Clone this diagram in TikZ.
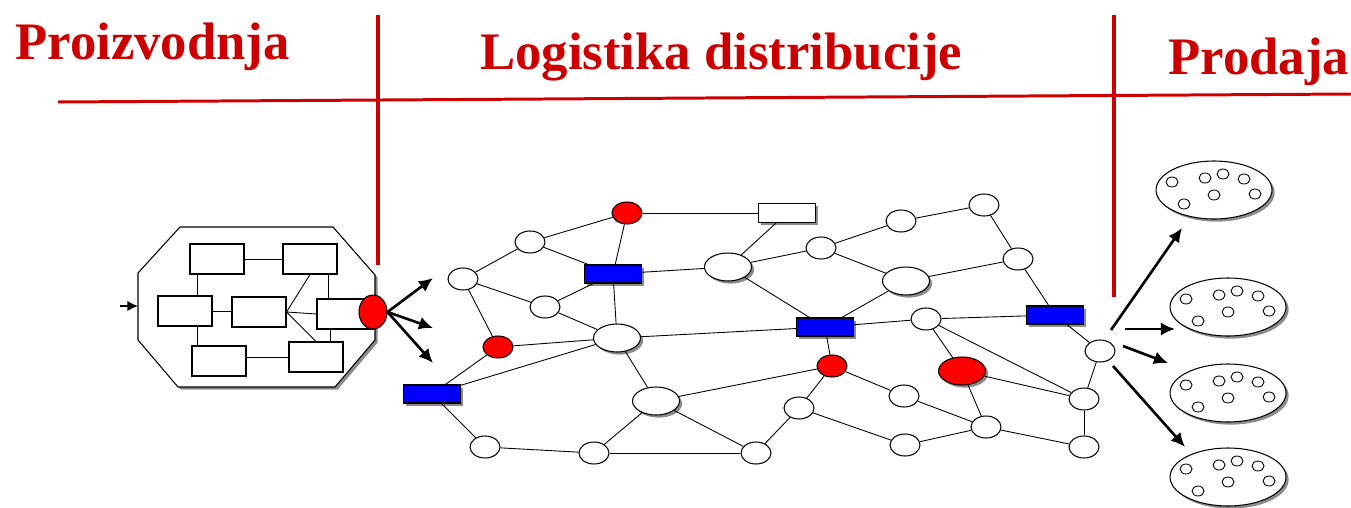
\documentclass[tikz,border=0pt]{standalone}
\usepackage{fontspec}
\setmainfont{Liberation Serif}
\usetikzlibrary{shapes.geometric, shadows, arrows.meta}
\definecolor{zonered}{RGB}{204,0,0}

\begin{document}
\begin{tikzpicture}[
x=0.02cm, y=-0.02cm,
header/.style={anchor=base west, text=zonered, inner sep=0, font=\bfseries\fontsize{30}{36}\selectfont},
zone/.style={draw=zonered, line width=2.8pt},
shade/.style={drop shadow={shadow xshift=1.5pt, shadow yshift=-1.5pt, fill=black, opacity=0.45}},
hub/.style={ellipse, draw, fill=white, line width=0.6pt, inner sep=0, minimum width=0.6cm, minimum height=0.44cm},
hub-big/.style={hub, shade, minimum width=0.94cm, minimum height=0.56cm},
hub-red/.style={hub, fill=red},
depot/.style={rectangle, draw, fill=blue, line width=0.6pt, inner sep=0, shade, minimum width=1.14cm, minimum height=0.36cm},
unit/.style={rectangle, draw, fill=white, line width=0.6pt, inner sep=0, minimum width=1.08cm, minimum height=0.6cm},
shop/.style={ellipse, draw, fill=white, line width=0.6pt, inner sep=0, shade, minimum width=2.32cm, minimum height=1.16cm},
client/.style={ellipse, draw, fill=white, line width=0.5pt, inner sep=0, minimum width=0.24cm, minimum height=0.2cm},
link/.style={line width=0.5pt},
flow/.style={line width=1.5pt, -{Latex[length=8pt, width=7.5pt]}}
]
\useasboundingbox (0,0) rectangle (1351,507);

% zones
\node[header] (make) at (15,59) {Proizvodnja};
\node[header] (logistics) at (480,69) {Logistika distribucije};
\node[header] (sale) at (1168,74) {Prodaja};
\draw[zone, line width=1.7pt] (58,102) -- (1351,94);
\draw[zone] (378,15) -- (378,265);
\draw[zone] (1114,15) -- (1114,297);

% plant
\draw[fill=white, line width=0.6pt, shade] (180,227) -- (333,227) -- (375,275) -- (375,340)
  -- (335,387) -- (178,387) -- (138,340) -- (138,273) -- cycle;
\node[unit] (u1) at (217,259) {};
\node[unit] (u2) at (310,259) {};
\node[unit] (u3) at (185,311) {};
\node[unit] (u4) at (259,312) {};
\node[unit, minimum width=1.12cm] (u5) at (345,314) {};
\node[unit] (u6) at (219,361) {};
\node[unit] (u7) at (316,357) {};
\draw[link] (u1) -- (u2);
\draw[link] (u3.east) -- (u3.east -| u4.west);
\draw[link] (u7.west -| u6.east) -- (u7.west);
\draw[link] ([xshift=-0.3cm]u3.north east) -- ([xshift=-0.3cm]u3.north east |- u1.south);
\draw[link] ([xshift=0.12cm]u6.north west) -- ([xshift=0.12cm]u6.north west |- u3.south);
\draw[link] ([xshift=-0.18cm]u2.south east) -- ([xshift=-0.18cm]u2.south east |- u5.north);
\draw[link] ([xshift=-0.3cm]u5.south) -- ([xshift=-0.3cm]u5.south |- u7.north);
\draw[link] (u4.east) -- (u2.south);
\draw[link] (u4.east) -- (u5.west);
\draw[link] (u4.east) -- (u7.north);
\node[hub-red, minimum width=0.56cm, minimum height=0.68cm] (port) at (373,312) {};

\coordinate (feed) at (120,306);
\coordinate (plant-in) at (138,306);
\draw[line width=1.5pt, -{Latex[length=6pt, width=6pt]}] (feed) -- (plant-in);
\draw[flow] (port.east) -- ([shift={(60,-34)}]port.center);
\draw[flow] (port.east) -- ([shift={(60,16)}]port.center);
\draw[flow] (port.east) -- ([shift={(60,51)}]port.center);

% distribution network
\node[hub] (a) at (530,242) {};
\node[hub-red] (b) at (627,213) {};
\node[hub] (c) at (463,279) {};
\node[depot] (d) at (613,274) {};
\node[hub] (e) at (545,307) {};
\node[hub-red] (f) at (498,347) {};
\node[hub-big] (g) at (617,338) {};
\node[depot] (h) at (432,394) {};
\node[hub-big] (i) at (656,401) {};
\node[hub] (j) at (485,447) {};
\node[hub] (k) at (594,453) {};
\node[depot, fill=white, minimum height=0.38cm] (l) at (787,213) {};
\node[hub-big] (m) at (728,267) {};
\node[hub] (n) at (821,248) {};
\node[hub] (o) at (901,221) {};
\node[hub] (p) at (984,205) {};
\node[hub-big] (q) at (906,281) {};
\node[hub] (r) at (1018,259) {};
\node[depot] (s) at (825,327) {};
\node[hub] (t) at (926,319) {};
\node[depot] (u) at (1055,315) {};
\node[hub] (v) at (1100,351) {};
\node[hub-red] (w) at (832,366) {};
\node[hub-big, fill=red] (x) at (962,371) {};
\node[hub] (y) at (904,396) {};
\node[hub] (z) at (799,408) {};
\node[hub] (aa) at (1084,399) {};
\node[hub] (bb) at (986,427) {};
\node[hub] (cc) at (905,445) {};
\node[hub] (dd) at (756,453) {};
\node[hub] (ee) at (1084,447) {};

\foreach \from/\to in {a/b, a/c, a/d, c/e, c/f, e/d, e/g, b/d, d/g, d/m, b/l, f/g, f/h,
  h/g, h/j, g/i, g/s, i/w, i/dd, i/k, j/k, k/dd, l/m, m/n, m/s, n/o, n/q, o/p, p/r,
  q/r, q/s, s/t, t/u, t/x, t/aa, u/v, u/r, s/w, w/y, w/z, y/bb, x/aa, x/bb, z/dd,
  z/cc, cc/bb, bb/ee, aa/ee, aa/v}
  \draw[link] (\from) -- (\to);

% customers
\foreach \s/\sx/\sy in {1/1214/190, 2/1228/307, 3/1228/393, 4/1228/477} {
  \node[shop] (shop\s) at (\sx,\sy) {};
  \foreach \dx/\dy in {-42/-8, -9/-12, 9/-16, 30/-11, 41/4, 0/5, -30/14}
    \node[client] at ([shift={(\dx,\dy)}]shop\s.center) {};
}
\draw[flow] ([shift={(11,-21)}]v.center) -- ([shift={(-32,38)}]shop1.center);
\draw[flow] ([shift={(25,-22)}]v.center) -- ([shift={(-53,22)}]shop2.center);
\draw[flow] ([shift={(23,-5)}]v.center) -- ([shift={(-60,-30)}]shop3.center);
\draw[flow] ([shift={(13,15)}]v.center) -- ([shift={(-43,-30)}]shop4.center);

\end{tikzpicture}
\end{document}
